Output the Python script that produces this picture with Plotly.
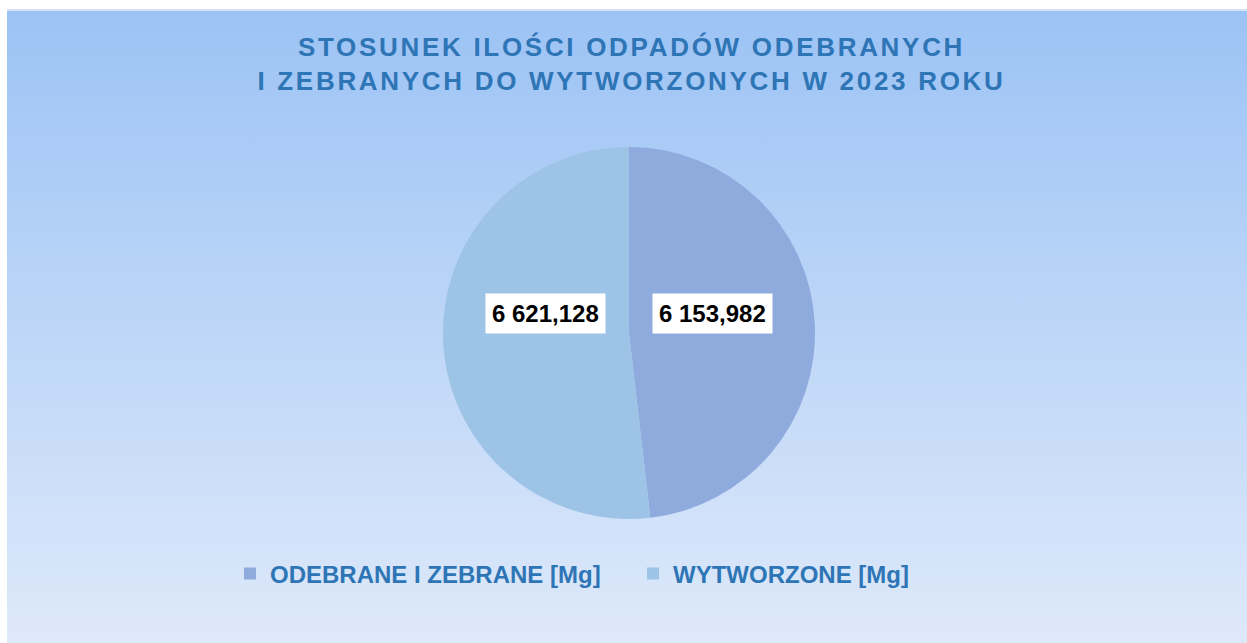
import math
import base64
import plotly.graph_objects as go

# ---- data ----
categories = ["ODEBRANE I ZEBRANE [Mg]", "WYTWORZONE [Mg]"]
values = [6153982, 6621128]
value_labels = ["6 153,982", "6 621,128"]
slice_colors = ["#8faadc", "#9dc3e6"]
title_text = "STOSUNEK ILOŚCI ODPADÓW ODEBRANYCH<br>I ZEBRANYCH DO WYTWORZONYCH W 2023 ROKU"

W, H = 1247, 643
BLUE = "#2e75b6"

# pie geometry (layout)
pcx, pcy, R = 629, 333, 186
dom_x = [(pcx - R) / W, (pcx + R) / W]
dom_y = [1 - (pcy + R) / H, 1 - (pcy - R) / H]

fig = go.Figure()
fig.add_trace(go.Pie(
    labels=categories, values=values, sort=False, direction="clockwise",
    rotation=0, marker=dict(colors=slice_colors, line=dict(width=0)),
    textinfo="none", hoverinfo="label+value", domain=dict(x=dom_x, y=dom_y),
))

# gradient background image (frame starts a few px in from top-left)
svg = ('<svg xmlns="http://www.w3.org/2000/svg" width="100" height="100" preserveAspectRatio="none">'
       '<defs><linearGradient id="g" x1="0" y1="0" x2="0" y2="1">'
       '<stop offset="0" stop-color="#9cc3f5"/><stop offset="1" stop-color="#dee9fa"/>'
       '</linearGradient></defs><rect width="100" height="100" fill="url(#g)"/></svg>')
bg_uri = "data:image/svg+xml;base64," + base64.b64encode(svg.encode()).decode()
x0 = 7 / W
ytop = 1 - 10 / H

# value label boxes, placed horizontally from slice mid-angles
total = sum(values)
annotations = []
cum = 0
cxp = (dom_x[0] + dom_x[1]) / 2
cyp = (dom_y[0] + dom_y[1]) / 2
for v, lab in zip(values, value_labels):
    mid = (cum + v / 2) / total
    cum += v
    th = 2 * math.pi * mid
    f = 0.45
    ax = cxp + f * R * math.sin(th) / W
    ay = cyp + 20 / H
    annotations.append(dict(x=ax, y=ay, xref="paper", yref="paper", text=lab,
                            showarrow=False, bgcolor="white", borderpad=6,
                            font=dict(family="Liberation Sans, Arial, sans-serif", size=24,
                                      color="black", weight="bold")))

fig.update_layout(
    width=W, height=H, margin=dict(l=0, r=0, t=0, b=0),
    paper_bgcolor="white", plot_bgcolor="rgba(0,0,0,0)",
    images=[dict(source=bg_uri, xref="paper", yref="paper", x=x0, y=ytop,
                 sizex=1 - x0, sizey=ytop, xanchor="left", yanchor="top",
                 sizing="stretch", layer="below")],
    shapes=[dict(type="line", xref="paper", yref="paper", x0=x0, x1=1,
                 y0=ytop, y1=ytop, line=dict(color="#d3e2f5", width=2), layer="below")],
    annotations=annotations,
    title=dict(text=title_text, x=631.5 / W, xanchor="center",
               y=1 - 56 / H, yanchor="middle",
               font=dict(family="Liberation Sans, Arial, sans-serif", size=26,
                         color=BLUE, weight="bold")),
    legend=dict(orientation="h", x=230 / W, xanchor="left", y=1 - 574 / H,
                yanchor="middle", entrywidth=358,
                font=dict(family="Liberation Sans, Arial, sans-serif", size=24,
                          color=BLUE, weight="bold"),
                bgcolor="rgba(0,0,0,0)"),
)

post = ("document.body.style.margin='0';"
        "var gd=document.getElementById('{plot_id}');"
        "gd.querySelectorAll('.gtitle').forEach(function(t){t.style.letterSpacing='2.7px';});")
fig.write_html("out.html", post_script=post, config={"displayModeBar": False})
